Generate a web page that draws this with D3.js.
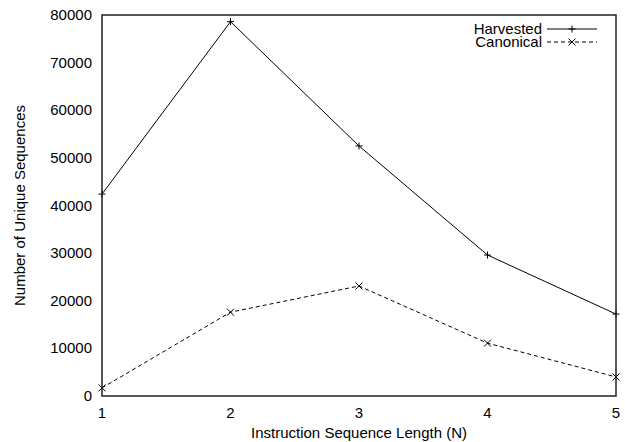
<!DOCTYPE html>
<html>
<head>
<meta charset="utf-8">
<script src="https://cdn.jsdelivr.net/npm/d3@7"></script>
<style>
body{margin:0;background:#fff;}
text{font-family:"Liberation Sans",Arial,sans-serif;font-size:15px;fill:#000;}
</style>
</head>
<body>
<svg id="chart" width="625" height="442"></svg>
<script>
var seqLengths = [1, 2, 3, 4, 5];
var harvested = [42400, 78600, 52500, 29600, 17200];
var canonical = [1700, 17600, 23100, 11100, 4000];
var yTicks = [0, 10000, 20000, 30000, 40000, 50000, 60000, 70000, 80000];
var seriesNames = ["Harvested", "Canonical"];

(function(){
var svg = d3.select("#chart");
var plotL = 102, plotR = 616, plotT = 15, plotB = 396;

var x = d3.scaleLinear().domain([1, 5]).range([plotL, plotR]);
var y = d3.scaleLinear().domain([0, 80000]).range([plotB, plotT]);

// tick labels
svg.append("g").selectAll("text").data(seqLengths).enter().append("text")
	.attr("x", function(d){return x(d);})
	.attr("y", 418)
	.attr("text-anchor", "middle")
	.text(function(d){return d;});
svg.append("g").selectAll("text").data(yTicks).enter().append("text")
	.attr("x", 92)
	.attr("y", function(d){return y(d) + 5;})
	.attr("text-anchor", "end")
	.text(function(d){return d;});

// axis titles
svg.append("text").attr("x", (plotL + plotR)/2).attr("y", 438)
	.attr("text-anchor", "middle").text("Instruction Sequence Length (N)");
svg.append("text").attr("transform", "translate(25," + ((plotT + plotB)/2) + ") rotate(-90)")
	.attr("text-anchor", "middle").text("Number of Unique Sequences");

var series = [
	{name : seriesNames[0], values : harvested, dash : null, mark : "plus"},
	{name : seriesNames[1], values : canonical, dash : "4,3", mark : "cross"}
];

function drawMark(g, type, cx, cy){
	var s = 3.5;
	var d = type === "plus"
		? "M" + (cx-s) + "," + cy + "H" + (cx+s) + "M" + cx + "," + (cy-s) + "V" + (cy+s)
		: "M" + (cx-s) + "," + (cy-s) + "L" + (cx+s) + "," + (cy+s) + "M" + (cx-s) + "," + (cy+s) + "L" + (cx+s) + "," + (cy-s);
	g.append("path").attr("d", d).attr("stroke", "#000").attr("stroke-width", 1).attr("fill", "none");
}

var line = d3.line()
	.x(function(d, i){return x(seqLengths[i]);})
	.y(function(d){return y(d);});

series.forEach(function(s, si){
	var g = svg.append("g");
	g.append("path").datum(s.values)
		.attr("d", line)
		.attr("fill", "none")
		.attr("stroke", "#000")
		.attr("stroke-width", 1)
		.attr("stroke-dasharray", s.dash);
	s.values.forEach(function(v, i){
		drawMark(g, s.mark, x(seqLengths[i]), y(v));
	});
	// legend
	var ly = 29 + si * 13;
	svg.append("text").attr("x", 542).attr("y", ly + 5)
		.attr("text-anchor", "end").text(s.name);
	svg.append("line").attr("x1", 547).attr("x2", 597).attr("y1", ly).attr("y2", ly)
		.attr("stroke", "#000").attr("stroke-width", 1)
		.attr("stroke-dasharray", s.dash);
	drawMark(svg, s.mark, 572, ly);
});

// frame
svg.append("rect").attr("x", plotL).attr("y", plotT)
	.attr("width", plotR - plotL).attr("height", plotB - plotT)
	.attr("fill", "none").attr("stroke", "#222").attr("stroke-width", 1.5);
})();
</script>
</body>
</html>
